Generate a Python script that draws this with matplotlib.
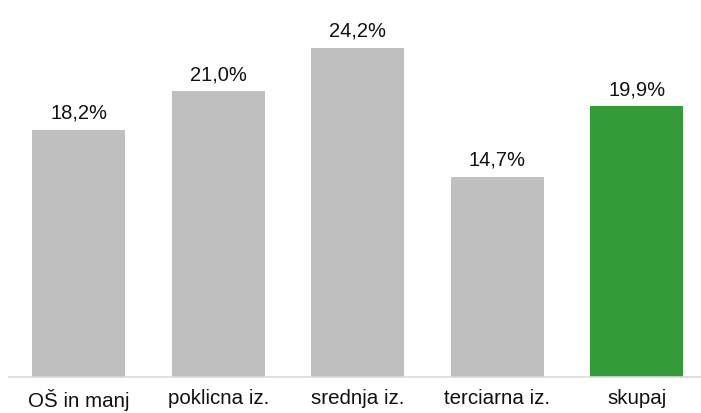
import numpy as np
from matplotlib import pyplot as plt

plt.rcParams['font.family'] = ['Liberation Sans', 'DejaVu Sans']

# data
categories = ["OŠ in manj", "poklicna iz.", "srednja iz.", "terciarna iz.", "skupaj"]
values = [18.2, 21.0, 24.2, 14.7, 19.9]
colors = ["#BFBFBF", "#BFBFBF", "#BFBFBF", "#BFBFBF", "#339C39"]

fig = plt.figure(figsize=(7.01, 4.14), dpi=100)
ax = fig.add_axes([9/701, 36/414, 692/701, 378/414])

x = np.arange(len(categories))
bars = ax.bar(x, values, width=0.667, color=colors)

# value labels above bars
for xi, v in zip(x, values):
    ax.annotate(f"{v:.1f}%".replace(".", ","), (xi, v), xytext=(0, 6),
                textcoords="offset points", ha="center", va="bottom",
                fontsize=14.5, color="#111111")

ax.set_xlim(-0.5, 4.462)
ax.set_ylim(0, 27.8)
ax.set_xticks(x)
ax.set_xticklabels(categories, fontsize=14.8, color="#111111")
ax.tick_params(axis="x", length=0, pad=8)
ax.set_yticks([])
for s in ["top", "right", "left"]:
    ax.spines[s].set_visible(False)
ax.spines["bottom"].set_color("#D9D9D9")
ax.spines["bottom"].set_linewidth(1.2)

fig.savefig("out.png", dpi=100)
